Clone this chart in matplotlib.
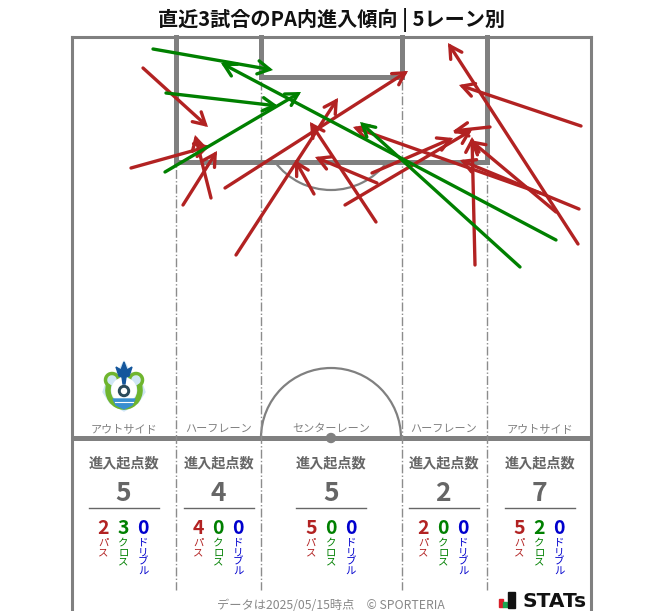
#!/usr/bin/python3
# -*- coding: utf-8 -*-
import matplotlib

matplotlib.use('Agg')
import matplotlib.pyplot as plt
from matplotlib.patches import Arc, Circle, FancyArrowPatch, Polygon, Rectangle

plt.rcParams['font.family'] = ['Noto Sans CJK JP', 'DejaVu Sans']

TITLE = '直近3試合のPA内進入傾向 | 5レーン別'
FOOTER = 'データは2025/05/15時点\u3000© SPORTERIA'

lanes = ['アウトサイド', 'ハーフレーン', 'センターレーン', 'ハーフレーン', 'アウトサイド']
lane_centers = [124, 219, 331, 444, 540]
number_centers = [123.3, 218.3, 331, 443.3, 539.3]
lane_edges = [176, 261, 402, 487]

totals = [5, 4, 5, 2, 7]
passes = [2, 4, 5, 2, 5]
crosses = [3, 0, 0, 0, 2]
dribbles = [0, 0, 0, 0, 0]

# arrows, start x, start y, end x, end y (read in pixels off the picture)
pass_arrows = [
    (143, 68, 208, 127), (131, 168, 210, 146),
    (183, 205, 217, 151), (211, 198, 195, 135), (225, 188, 408, 71), (236, 255, 338, 98),
    (314, 194, 295, 160), (376, 222, 310, 122), (345, 205, 472, 130), (372, 173, 453, 138), (377, 183, 315, 157),
    (475, 265, 472, 137), (490, 127, 453, 131),
    (581, 126, 459, 85), (578, 244, 448, 43), (540, 193, 353, 127), (579, 209, 460, 160), (556, 212, 470, 140),
]
cross_arrows = [
    (153, 49, 273, 70), (166, 93, 278, 106), (165, 172, 301, 92),
    (556, 240, 221, 63), (520, 267, 360, 122),
]

RED = '#b22222'
GREEN = '#008000'
BLUE = '#0000cd'
LINE = '#808080'
TEXT = '#666666'

fig = plt.figure(figsize=(6.63, 6.11), dpi=100)
ax = fig.add_axes([0, 0, 1, 1])
ax.set_xlim(0, 663)
ax.set_ylim(611, 0)
ax.axis('off')

# pitch
ax.plot([72, 72], [37, 611], color=LINE, lw=2.2)
ax.plot([591, 591], [37, 611], color=LINE, lw=2.2)
ax.plot([72, 591], [37, 37], color=LINE, lw=2.2)
ax.plot([72, 591], [438, 438], color=LINE, lw=3.6, solid_capstyle='butt')
for x in lane_edges:
    ax.plot([x, x], [37, 590], color='#8c8c8c', lw=1, ls='-.')
ax.plot([176, 176, 487, 487], [37, 162, 162, 37], color=LINE, lw=3.6, solid_joinstyle='miter')
ax.plot([261, 261, 402, 402], [37, 77, 77, 37], color=LINE, lw=3.6, solid_joinstyle='miter')
ax.add_patch(Arc((331, 438), 140, 140, theta1=180, theta2=360, color=LINE, lw=1.6))
ax.add_patch(Arc((331, 120), 140, 140, theta1=37, theta2=143, color=LINE, lw=1.6))
ax.add_patch(Circle((331, 438), 4.5, color=LINE))

for arrows, color in [(pass_arrows, RED), (cross_arrows, GREEN)]:
    for x0, y0, x1, y1 in arrows:
        ax.add_patch(FancyArrowPatch((x0, y0), (x1, y1), arrowstyle='->,head_length=0.5,head_width=0.28',
                                     mutation_scale=17, color=color, lw=2.4, shrinkA=0, shrinkB=0,
                                     capstyle='round', joinstyle='miter', zorder=3))

ax.text(331, 26, TITLE, fontsize=14.5, fontweight='bold', color='#111111', ha='center', va='baseline')

for i, name in enumerate(lanes):
    cx = lane_centers[i]
    nx = number_centers[i]
    ax.text(cx, 432, name, fontsize=8, color='#808080', ha='center', va='baseline')
    ax.text(cx, 467, '進入起点数', fontsize=10.2, fontweight='bold', color=TEXT, ha='center', va='baseline')
    ax.text(nx, 501, str(totals[i]), fontsize=19, fontweight='bold', color=TEXT, ha='center', va='baseline')
    ax.plot([cx - 35, cx + 35], [508, 508], color=TEXT, lw=1)
    kinds = [(passes[i], 'パス', RED), (crosses[i], 'クロス', GREEN), (dribbles[i], 'ドリブル', BLUE)]
    for k, (num, label, color) in enumerate(kinds):
        x = nx - 20 + 20 * k
        ax.text(x, 533.5, str(num), fontsize=14, fontweight='bold', color=color, ha='center', va='baseline')
        ax.text(x, 538, '\n'.join(label), fontsize=7.5, color=color, ha='center', va='top', linespacing=0.93)

ax.text(331, 609, FOOTER, fontsize=8.8, color='#888888', ha='center', va='baseline')

# club crest, rough
ax.add_patch(Polygon([(108, 378), (118, 372), (124, 361), (130, 372), (140, 378), (145, 392), (138, 403), (124, 411),
                      (110, 403), (103, 392)], color='#cfe6f5', zorder=2))
ax.add_patch(Arc((124, 390), 32, 34, theta1=-20, theta2=200, color='#6fb52e', lw=4, zorder=2))
ax.add_patch(Arc((112, 380), 13, 13, theta1=110, theta2=400, color='#6fb52e', lw=2.5, zorder=2))
ax.add_patch(Arc((136, 380), 13, 13, theta1=140, theta2=430, color='#6fb52e', lw=2.5, zorder=2))
ax.add_patch(Circle((124, 390), 12, color='white', zorder=2))
ax.add_patch(Polygon([(124, 362), (127, 370), (132, 367), (129, 376), (126, 377), (125, 384), (123, 384), (122, 377),
                      (119, 376), (116, 367), (121, 370)], color='#14569c', zorder=3))
ax.add_patch(Circle((124, 391), 5.5, color='#2a4a5a', zorder=3))
ax.add_patch(Circle((124, 391), 2.5, color='white', zorder=3))
ax.add_patch(Polygon([(113, 399), (135, 399), (132, 405), (124, 409), (116, 405)], color='#3a8fd0', zorder=3))
ax.plot([115, 133], [402, 402], color='white', lw=0.8, zorder=3)

# STATs logo
ax.add_patch(Rectangle((499, 599), 4, 8, color='#d8202a'))
ax.add_patch(Rectangle((503.3, 602), 3.7, 5, color='#1aa650'))
ax.add_patch(Rectangle((508, 592), 7, 16, color='#111111'))
ax.text(522, 607, 'STATs', fontsize=14.5, fontweight='bold', family='DejaVu Sans', color='#111111',
        ha='left', va='baseline')

fig.savefig('out.png', dpi=100)
